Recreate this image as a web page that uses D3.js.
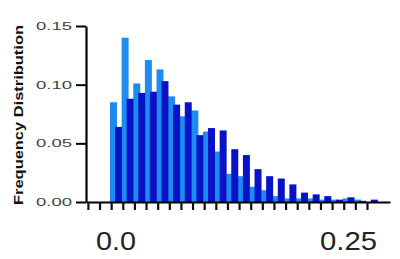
<!DOCTYPE html>
<html>
<head>
<meta charset="utf-8">
<script src="https://cdn.jsdelivr.net/npm/d3@7"></script>
<style>
  html, body { margin: 0; padding: 0; background: #fff; }
  svg { display: block; }
</style>
</head>
<body>
<svg id="chart" width="400" height="259"></svg>
<script>
// Bin centres (x value), series A (light blue) and series B (dark blue)
const bins = [0.0000, 0.0125, 0.0250, 0.0375, 0.0500, 0.0625, 0.0750, 0.0875,
              0.1000, 0.1125, 0.1250, 0.1375, 0.1500, 0.1625, 0.1750, 0.1875,
              0.2000, 0.2125, 0.2250, 0.2375, 0.2500, 0.2625, 0.2750];
const seriesLight = [0.085, 0.140, 0.101, 0.121, 0.113, 0.090, 0.073, 0.078,
                     0.060, 0.043, 0.024, 0.022, 0.013, 0.010, 0.005, 0.003,
                     0.003, 0.003, 0.002, 0.002, 0.003, 0.002, 0.000];
const seriesDark  = [0.064, 0.088, 0.093, 0.094, 0.103, 0.083, 0.085, 0.057,
                     0.063, 0.061, 0.045, 0.040, 0.028, 0.022, 0.020, 0.015,
                     0.008, 0.0065, 0.005, 0.002, 0.004, 0.001, 0.002];
const yTicks = [0, 0.05, 0.10, 0.15];
const yTickLabels = ["0.00", "0.05", "0.10", "0.15"];
const xLabelValues = [0, 0.25];
const xLabelTexts = ["0.0", "0.25"];
const yTitle = "Frequency Distribution";

const binStep = 0.0125;
const svg = d3.select("#chart");

const x = d3.scaleLinear().domain([-0.0333, 0.2935]).range([86, 390]);
const y = d3.scaleLinear().domain([0, 0.15]).range([202, 26]);

const bw = x(binStep) - x(0);
const lightCol = "#1d8cf2";
const darkCol = "#0812c6";

// light bars
svg.append("g").selectAll("rect").data(bins).join("rect")
  .attr("x", (d) => x(d) - 0.6 * bw)
  .attr("width", 0.6 * bw)
  .attr("y", (d, i) => y(seriesLight[i]))
  .attr("height", (d, i) => y(0) - y(seriesLight[i]))
  .attr("fill", lightCol);

// dark bars
svg.append("g").selectAll("rect").data(bins).join("rect")
  .attr("x", (d) => x(d) - 0.17 * bw)
  .attr("width", 0.6 * bw)
  .attr("y", (d, i) => y(seriesDark[i]))
  .attr("height", (d, i) => y(0) - y(seriesDark[i]))
  .attr("fill", darkCol);

// x axis with minor ticks
const xTickVals = d3.range(-0.03125, 0.27, binStep);
const xAxis = svg.append("g").attr("transform", `translate(0,${y(0)})`)
  .call(d3.axisBottom(x).tickValues(xTickVals).tickSize(8).tickSizeOuter(0).tickFormat(""));
xAxis.select(".domain").attr("stroke", "#000").attr("stroke-width", 2.2);
xAxis.selectAll(".tick line").attr("stroke", "#111").attr("stroke-width", 2.2);

// x labels
svg.append("g").selectAll("text").data(xLabelValues).join("text")
  .attr("x", (d) => x(d) - 1)
  .attr("y", 250)
  .attr("text-anchor", "middle")
  .attr("font-family", "Liberation Sans, Arial, sans-serif")
  .attr("font-size", 25)
  .attr("fill", "#222")
  .attr("textLength", (d, i) => i === 0 ? 40 : 57)
  .attr("lengthAdjust", "spacingAndGlyphs")
  .text((d, i) => xLabelTexts[i]);

// y axis
const yAxis = svg.append("g").attr("transform", `translate(86,0)`)
  .call(d3.axisLeft(y).tickValues(yTicks).tickSize(10).tickSizeOuter(0).tickPadding(4)
    .tickFormat((d, i) => yTickLabels[i]));
yAxis.select(".domain").attr("stroke", "#000").attr("stroke-width", 2.2);
yAxis.selectAll(".tick line").attr("stroke", "#000").attr("stroke-width", 2);
yAxis.selectAll(".tick text")
  .attr("font-family", "Liberation Sans, Arial, sans-serif")
  .attr("font-size", 11)
  .attr("fill", "#444")
  .attr("textLength", 36)
  .attr("lengthAdjust", "spacingAndGlyphs");

// y title
svg.append("text")
  .attr("transform", "translate(23,115) rotate(-90)")
  .attr("text-anchor", "middle")
  .attr("font-family", "Liberation Sans, Arial, sans-serif")
  .attr("font-weight", "bold")
  .attr("font-size", 12)
  .attr("fill", "#111")
  .attr("textLength", 180)
  .attr("lengthAdjust", "spacingAndGlyphs")
  .text(yTitle);
</script>
</body>
</html>
